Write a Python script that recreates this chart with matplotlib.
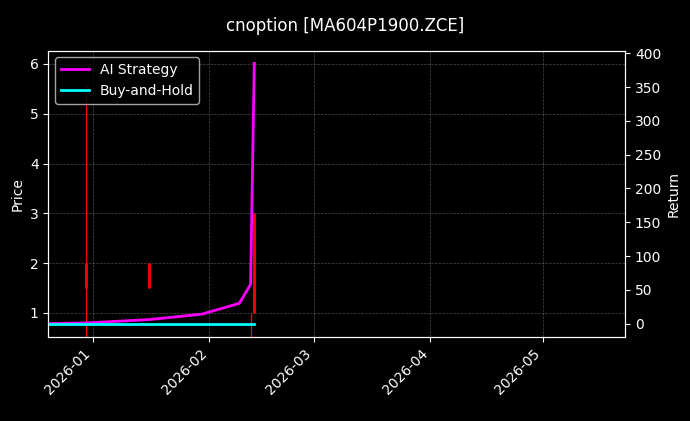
import matplotlib
matplotlib.use("Agg")
import matplotlib.pyplot as plt
import matplotlib.dates as mdates
import pandas as pd

# candles (date, open, high, low, close)
candle_dates = pd.to_datetime(["2025-12-30", "2026-01-16", "2026-02-12", "2026-02-13"])
candle_open = [2.0, 2.0, 1.0, 1.0]
candle_close = [1.5, 1.5, 1.0, 3.0]
candle_high = [5.6, 2.0, 1.0, 3.0]
candle_low = [0.5, 1.5, 0.5, 1.0]

ret_dates = pd.to_datetime(["2025-12-20", "2025-12-30", "2026-01-16", "2026-01-30",
                            "2026-02-09", "2026-02-12", "2026-02-13"])
ai_return = [0, 1, 6, 14, 30, 58, 385]
bh_return = [0, 0, 0, 0, 0, 0, 0]

plt.style.use("dark_background")
fig = plt.figure(figsize=(6.9, 4.21), dpi=100)
ax = fig.add_axes([0.07, 0.2, 0.836, 0.68])
ax2 = ax.twinx()

ax.vlines(candle_dates, candle_low, candle_high, color="red", lw=0.9)
ax.vlines(candle_dates, candle_open, candle_close, color="red", lw=2)
ax.set_ylim(0.52, 6.27)
ax.set_ylabel("Price")

ax2.plot(ret_dates, ai_return, color="magenta", lw=2, label="AI Strategy")
ax2.plot(ret_dates, bh_return, color="cyan", lw=2, label="Buy-and-Hold")
ax2.set_ylabel("Return")
ax2.set_ylim(-19.5, 404)

ax.set_xlim(pd.Timestamp("2025-12-20"), pd.Timestamp("2026-05-23"))
ax.xaxis.set_major_locator(mdates.MonthLocator())
ax.xaxis.set_major_formatter(mdates.DateFormatter("%Y-%m"))
plt.setp(ax.get_xticklabels(), rotation=45, ha="right")
ax.grid(True, color="gray", ls="--", lw=0.5, alpha=0.6)
ax2.legend(loc="upper left")
fig.suptitle("cnoption [MA604P1900.ZCE]", y=0.96)

fig.savefig("out.png", dpi=100)
